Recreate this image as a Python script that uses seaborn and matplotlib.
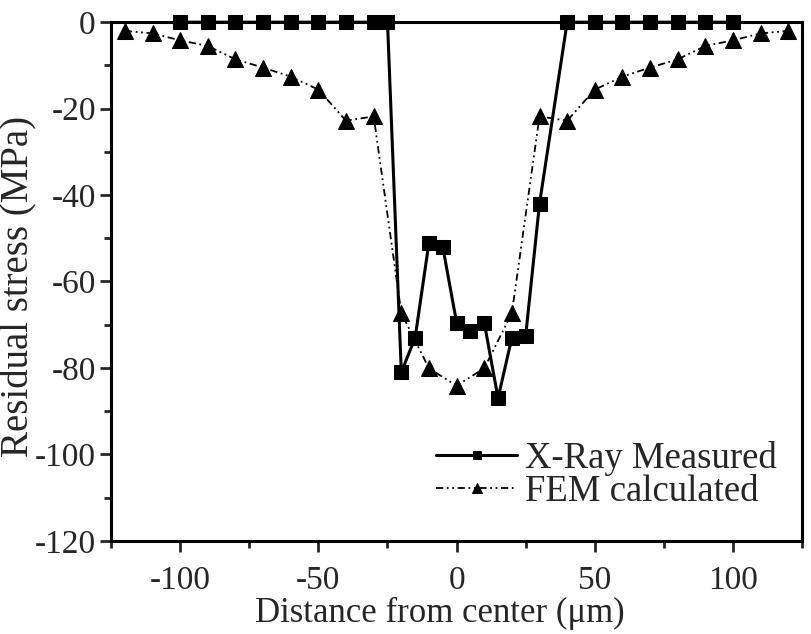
import numpy as np
import pandas as pd
import matplotlib
matplotlib.use("Agg")
import matplotlib.pyplot as plt
import seaborn as sns
from matplotlib.ticker import MultipleLocator

# ---- data ----
xray_x = [-100, -90, -80, -70, -60, -50, -40, -30, -25, -20, -15, -10, -5,
          0, 5, 10, 15, 20, 25, 30, 40, 50, 60, 70, 80, 90, 100]
xray_y = [0, 0, 0, 0, 0, 0, 0, 0, 0, -81, -73, -51, -52,
          -69.5, -71.5, -69.5, -87, -73, -72.5, -42, 0, 0, 0, 0, 0, 0, 0]

fem_x = [-120, -110, -100, -90, -80, -70, -60, -50, -40, -30, -20, -10,
         0, 10, 20, 30, 40, 50, 60, 70, 80, 90, 100, 110, 120]
fem_y = [-2.0, -2.6, -4.2, -5.5, -8.6, -10.5, -12.6, -15.6, -22.8, -21.8, -67.3, -80.1,
         -84.1, -80.1, -67.3, -21.8, -22.8, -15.6, -12.6, -10.5, -8.6, -5.5, -4.2, -2.6, -2.0]

xray = pd.DataFrame({"x": xray_x, "y": xray_y})
fem = pd.DataFrame({"x": fem_x, "y": fem_y})

sns.set_style("ticks")
plt.rcParams["font.family"] = ["Liberation Serif", "DejaVu Serif"]
plt.rcParams["axes.unicode_minus"] = False

fig = plt.figure(figsize=(8.11, 6.34), dpi=100)
ax = fig.add_axes([0.137, 0.147, 0.852, 0.818])

sns.lineplot(data=xray, x="x", y="y", ax=ax, color="black", lw=2.2,
             marker="s", markersize=10, markeredgecolor="black",
             label="X-Ray Measured", sort=False)
sns.lineplot(data=fem, x="x", y="y", ax=ax, color="black", lw=1.3,
             linestyle=(0, (4, 2, 1, 2, 1, 2)), marker="^", markersize=12,
             markeredgecolor="black", label="FEM calculated", sort=False)
for ln in ax.lines:
    ln.set_clip_on(False)

ax.set_xlim(-125, 125)
ax.set_ylim(-120, 0)
ax.xaxis.set_major_locator(MultipleLocator(50))
ax.xaxis.set_minor_locator(MultipleLocator(25))
ax.yaxis.set_major_locator(MultipleLocator(20))
ax.yaxis.set_minor_locator(MultipleLocator(10))
ax.tick_params(which="major", direction="out", length=8, width=2, labelsize=24, pad=3)
ax.tick_params(axis="x", which="major", pad=10)
ax.tick_params(which="minor", direction="out", length=5, width=2)
ax.tick_params(top=False, right=False, which="both")
for s in ax.spines.values():
    s.set_visible(True)
    s.set_linewidth(2.2)
    s.set_color("black")

ax.set_xlabel("Distance from center (μm)", fontsize=25, labelpad=0)
ax.set_ylabel("Residual stress (MPa)", fontsize=28)
ax.yaxis.set_label_coords(-0.106, 0.49)
ax.xaxis.set_label_coords(0.475, -0.108)

leg = ax.legend(loc="lower right", bbox_to_anchor=(1.0, 0.012), frameon=False,
                fontsize=26.5, handlelength=2.2, handletextpad=0.2,
                labelspacing=-0.05, markerscale=0.6, borderaxespad=0.3)

fig.savefig("out.png", dpi=100)
